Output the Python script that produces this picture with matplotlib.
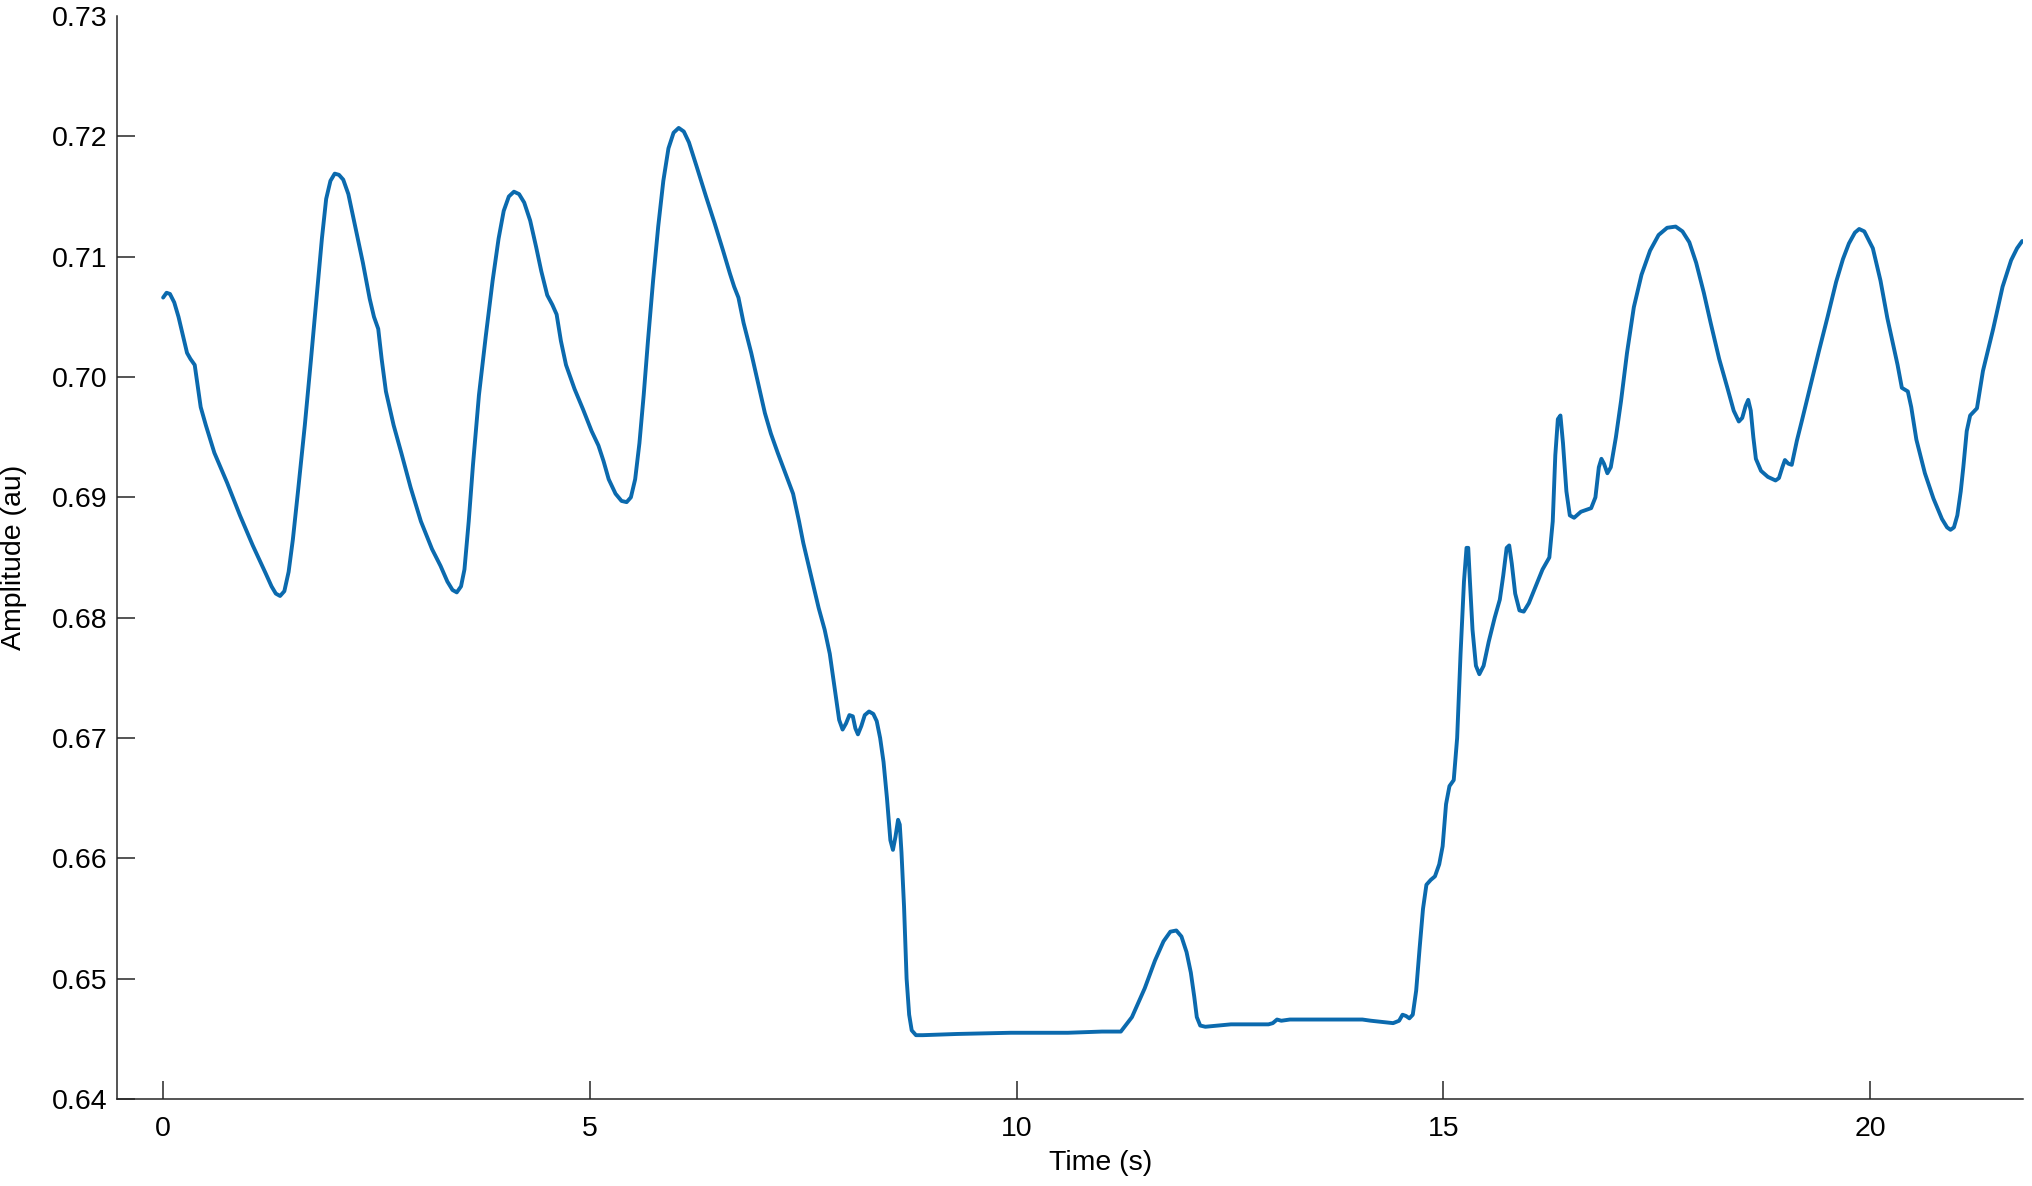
import matplotlib.pyplot as plt

# Amplitude trace, as (time s, amplitude au) pairs
tramo_oscilacion = [
    (0.00, 0.7066), (0.04, 0.7070), (0.08, 0.7069), (0.13, 0.7062), (0.18, 0.7050),
    (0.23, 0.7035), (0.28, 0.7020), (0.32, 0.7015), (0.37, 0.7010), (0.40, 0.6995),
    (0.44, 0.6975), (0.50, 0.6960), (0.60, 0.6937), (0.75, 0.6912), (0.90, 0.6885),
    (1.05, 0.6860), (1.20, 0.6837), (1.27, 0.6826), (1.32, 0.6820), (1.37, 0.6818),
    (1.42, 0.6822), (1.47, 0.6838), (1.52, 0.6865), (1.58, 0.6905), (1.66, 0.6960),
    (1.73, 0.7013), (1.80, 0.7068), (1.86, 0.7115), (1.91, 0.7148), (1.96, 0.7163),
    (2.01, 0.7169), (2.06, 0.7168), (2.11, 0.7164), (2.17, 0.7152), (2.25, 0.7125),
    (2.34, 0.7095), (2.42, 0.7065), (2.47, 0.7050), (2.52, 0.7040), (2.56, 0.7015),
    (2.61, 0.6988), (2.70, 0.6960), (2.79, 0.6937), (2.90, 0.6908), (3.02, 0.6880),
    (3.15, 0.6857), (3.25, 0.6843), (3.33, 0.6830), (3.39, 0.6823), (3.44, 0.6821),
    (3.49, 0.6826), (3.53, 0.6840), (3.58, 0.6880), (3.63, 0.6927), (3.70, 0.6985),
    (3.78, 0.7034), (3.86, 0.7080), (3.93, 0.7115), (3.99, 0.7138), (4.05, 0.7150),
    (4.11, 0.7154), (4.17, 0.7152), (4.23, 0.7145), (4.30, 0.7130), (4.37, 0.7108),
    (4.43, 0.7088), (4.50, 0.7068), (4.56, 0.7060), (4.61, 0.7052), (4.66, 0.7030),
    (4.72, 0.7010), (4.82, 0.6990), (4.92, 0.6973), (5.02, 0.6955), (5.10, 0.6943),
    (5.16, 0.6930), (5.22, 0.6915), (5.30, 0.6903), (5.37, 0.6897), (5.43, 0.6896),
    (5.48, 0.6900),
]
tramo_caida = [
    (5.53, 0.6915), (5.58, 0.6945), (5.63, 0.6985), (5.68, 0.7030), (5.74, 0.7080),
    (5.80, 0.7125), (5.86, 0.7163), (5.92, 0.7190), (5.98, 0.7203), (6.04, 0.7207),
    (6.10, 0.7204), (6.16, 0.7195), (6.25, 0.7175), (6.36, 0.7150), (6.46, 0.7128),
    (6.56, 0.7105), (6.64, 0.7086), (6.69, 0.7075), (6.74, 0.7066), (6.80, 0.7045),
    (6.89, 0.7020), (6.97, 0.6995), (7.05, 0.6970), (7.12, 0.6953), (7.20, 0.6937),
    (7.30, 0.6918), (7.38, 0.6903), (7.45, 0.6880), (7.50, 0.6862), (7.60, 0.6832),
    (7.68, 0.6808), (7.75, 0.6790), (7.81, 0.6770), (7.87, 0.6740), (7.92, 0.6715),
    (7.96, 0.6707), (8.00, 0.6712), (8.04, 0.6719), (8.08, 0.6718), (8.11, 0.6708),
    (8.14, 0.6703), (8.18, 0.6710), (8.22, 0.6719), (8.27, 0.6722), (8.32, 0.6720),
    (8.36, 0.6714), (8.40, 0.6700), (8.44, 0.6680), (8.48, 0.6650), (8.52, 0.6615),
    (8.55, 0.6607), (8.58, 0.6618), (8.61, 0.6632), (8.63, 0.6628), (8.65, 0.6605),
    (8.68, 0.6560), (8.71, 0.6500), (8.74, 0.6470), (8.77, 0.6457), (8.82, 0.6453),
    (8.90, 0.6453),
]
tramo_meseta = [
    (9.30, 0.6454), (9.93, 0.6455), (10.60, 0.6455), (11.00, 0.6456), (11.22, 0.6456),
    (11.35, 0.6468), (11.50, 0.6492), (11.62, 0.6515), (11.72, 0.6531), (11.80, 0.6539),
    (11.87, 0.6540), (11.93, 0.6535), (11.99, 0.6522), (12.04, 0.6505), (12.08, 0.6485),
    (12.11, 0.6468), (12.15, 0.6461), (12.21, 0.6460), (12.51, 0.6462), (12.70, 0.6462),
    (12.82, 0.6462), (12.95, 0.6462), (13.00, 0.6463), (13.05, 0.6466), (13.10, 0.6465),
    (13.20, 0.6466), (13.50, 0.6466), (13.96, 0.6466), (14.05, 0.6466), (14.15, 0.6465),
    (14.41, 0.6463),
]
tramo_subida = [
    (14.48, 0.6465), (14.52, 0.6470), (14.56, 0.6469), (14.60, 0.6467), (14.64, 0.6470),
    (14.68, 0.6490), (14.72, 0.6525), (14.76, 0.6558), (14.80, 0.6578), (14.85, 0.6582),
    (14.90, 0.6585), (14.95, 0.6595), (14.99, 0.6610), (15.03, 0.6645), (15.07, 0.6660),
    (15.12, 0.6665), (15.16, 0.6700), (15.20, 0.6770), (15.24, 0.6830), (15.27, 0.6858),
    (15.29, 0.6858), (15.31, 0.6830), (15.34, 0.6790), (15.38, 0.6760), (15.42, 0.6753),
    (15.47, 0.6760), (15.53, 0.6780), (15.60, 0.6800), (15.66, 0.6815), (15.70, 0.6835),
    (15.74, 0.6858), (15.77, 0.6860), (15.80, 0.6845), (15.84, 0.6820), (15.89, 0.6806),
    (15.94, 0.6805), (16.00, 0.6812), (16.08, 0.6826), (16.16, 0.6840), (16.24, 0.6850),
    (16.28, 0.6880), (16.31, 0.6935), (16.34, 0.6965), (16.37, 0.6968), (16.40, 0.6945),
    (16.44, 0.6905), (16.48, 0.6885), (16.53, 0.6883), (16.61, 0.6888), (16.73, 0.6891),
    (16.78, 0.6900), (16.82, 0.6925), (16.85, 0.6932), (16.88, 0.6928), (16.92, 0.6920),
    (16.96, 0.6925),
]
tramo_final = [
    (17.02, 0.6950), (17.08, 0.6980), (17.15, 0.7020), (17.23, 0.7058), (17.32, 0.7085),
    (17.42, 0.7105), (17.52, 0.7118), (17.62, 0.7124), (17.72, 0.7125), (17.80, 0.7121),
    (17.88, 0.7112), (17.96, 0.7095), (18.05, 0.7070), (18.13, 0.7045), (18.23, 0.7015),
    (18.33, 0.6990), (18.40, 0.6972), (18.46, 0.6963), (18.50, 0.6966), (18.54, 0.6976),
    (18.57, 0.6981), (18.60, 0.6972), (18.63, 0.6950), (18.66, 0.6932), (18.72, 0.6922),
    (18.80, 0.6917), (18.89, 0.6914), (18.93, 0.6916), (18.97, 0.6925), (19.00, 0.6931),
    (19.04, 0.6928), (19.08, 0.6927), (19.14, 0.6947), (19.20, 0.6964), (19.30, 0.6993),
    (19.40, 0.7022), (19.50, 0.7050), (19.60, 0.7079), (19.68, 0.7098), (19.75, 0.7111),
    (19.82, 0.7120), (19.87, 0.7123), (19.93, 0.7121), (20.03, 0.7107), (20.12, 0.7080),
    (20.20, 0.7049), (20.32, 0.7010), (20.37, 0.6991), (20.44, 0.6988), (20.48, 0.6975),
    (20.54, 0.6948), (20.64, 0.6920), (20.74, 0.6899), (20.84, 0.6882), (20.90, 0.6875),
    (20.94, 0.6873), (20.98, 0.6875), (21.02, 0.6885), (21.06, 0.6905), (21.09, 0.6925),
    (21.13, 0.6955), (21.17, 0.6968), (21.25, 0.6974), (21.32, 0.7005), (21.44, 0.7040),
    (21.55, 0.7075), (21.65, 0.7097), (21.72, 0.7107), (21.78, 0.7113),
]

marcas_x = [0, 5, 10, 15, 20]
marcas_y = [0.64, 0.65, 0.66, 0.67, 0.68, 0.69, 0.70, 0.71, 0.72, 0.73]
etiquetas_y = ["0.64", "0.65", "0.66", "0.67", "0.68", "0.69", "0.70", "0.71", "0.72", "0.73"]

puntos = tramo_oscilacion + tramo_caida + tramo_meseta + tramo_subida + tramo_final
tiempo = [p[0] for p in puntos]
amplitud = [p[1] for p in puntos]

plt.rcParams['font.family'] = ['Liberation Sans', 'DejaVu Sans']

fig = plt.figure(figsize=(20.32, 11.86), dpi=100)
ax = fig.add_axes([0.0576, 0.0734, 0.9380, 0.9131])

ax.plot(tiempo, amplitud, color="#0B6AAE", linewidth=2.8,
        solid_joinstyle="round", solid_capstyle="round")

ax.set_xlim(-0.54, 21.79)
ax.set_ylim(0.64, 0.73)
ax.set_xticks(marcas_x)
ax.set_yticks(marcas_y)
ax.set_yticklabels(etiquetas_y)

for lado in ["top", "right"]:
    ax.spines[lado].set_visible(False)
for lado in ["left", "bottom"]:
    ax.spines[lado].set_color("#262626")
    ax.spines[lado].set_linewidth(1.1)

ax.tick_params(axis="both", direction="in", length=13, width=1.1, color="#262626",
               labelsize=20.5, labelcolor="black")
ax.tick_params(axis="x", pad=12)
ax.tick_params(axis="y", pad=7)
ax.yaxis.get_major_ticks()[-1].tick1line.set_visible(False)

ax.set_xlabel("Time (s)", fontsize=20.5)
ax.set_ylabel("Amplitude (au)", fontsize=20.5)
ax.xaxis.set_label_coords(0.516, -0.047)
ax.yaxis.set_label_coords(-0.047, 0.5)

fig.savefig("out.png", dpi=100)
